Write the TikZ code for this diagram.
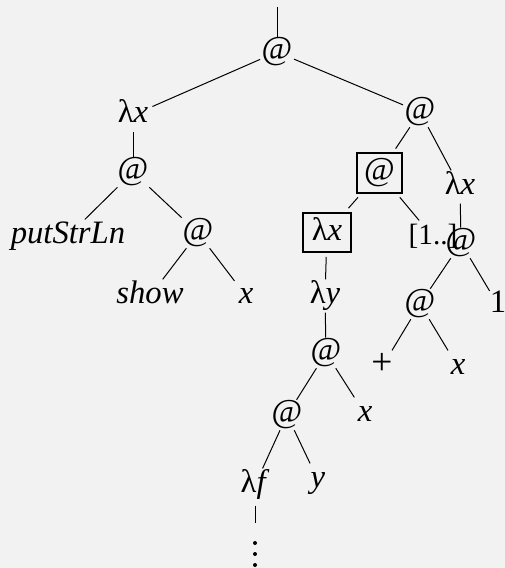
\documentclass[tikz,border=0pt]{standalone}
\usepackage{fontspec}
\setmainfont{Liberation Serif}
\definecolor{bgc}{HTML}{F2F2F2}
\newcommand{\lam}{\textup{λ}}
\begin{document}
\begin{tikzpicture}[x=0.75pt,y=-0.75pt,
  lab/.style={font=\fontsize{24.5}{26}\selectfont, text height=17pt, text depth=5.5pt, inner xsep=3pt, inner ysep=1pt},
  atn/.style={lab, font=\fontsize{25}{27}\selectfont, inner xsep=1pt, inner ysep=0pt},
  boxd/.style={draw, line width=1.5pt, minimum height=29.5pt, outer sep=3.5pt},
  edge/.style={line width=0.75pt}]
\fill[bgc] (0,0) rectangle (505,568);
\useasboundingbox (0,0) rectangle (505,568);
\coordinate (top) at (277,7);
\node[atn] (root) at (277,52) {@};
\node[lab] (Lx) at (133,115) {\lam\textit{x}};
\node[atn] (La) at (133,172) {@};
\node[lab] (put) at (68,236) {\itshape putStrLn};
\node[atn] (Ma) at (198,233) {@};
\node[lab] (show) at (150,296) {\itshape show};
\node[lab] (x1) at (246,296) {\textit{x}};
\node[atn] (R) at (420,112) {@};
\node[atn, boxd, minimum width=34pt] (Ba) at (379.5,173) {@};
\node[lab] (Rx) at (460,187) {\lam\textit{x}};
\node[lab, boxd, minimum width=36pt] (Bx) at (327,232.5) {\lam\textit{x}};
\node[lab, font=\fontsize{22}{24}\selectfont] (rng) at (433,237) {[1..]};
\node[atn] (R2) at (461,243) {@};
\node[lab] (ly) at (325,296) {\lam\textit{y}};
\node[lab, inner xsep=0pt] (one) at (498,305) {1};
\node[atn] (R3) at (420,304) {@};
\node[atn] (M2) at (326,353) {@};
\node[lab, font=\fontsize{28}{30}\selectfont] (plus) at (382,367) {+};
\node[lab] (x2) at (458,367) {\textit{x}};
\node[atn] (M3) at (287,415) {@};
\node[lab] (x3) at (365,414) {\textit{x}};
\node[lab] (lf) at (255,485) {\lam\textit{f}};
\node[lab] (y) at (318,480) {\textit{y}};
\node[inner sep=0pt, minimum width=6pt, minimum height=22.5pt] (dots) at (255,554) {};
\foreach \dy in {-11,0,11} \fill ([yshift=\dy*0.75pt]dots.center) circle (1.5pt);
\draw[edge] (top) -- (root);
\draw[edge] (root) -- (Lx);
\draw[edge] (root) -- (R);
\draw[edge] (Lx) -- (La);
\draw[edge] (La) -- (put);
\draw[edge] (La) -- (Ma);
\draw[edge] (Ma) -- (show);
\draw[edge] (Ma) -- (x1);
\draw[edge] (R) -- (Ba);
\draw[edge] (R) -- (Rx);
\draw[edge] (Ba) -- (Bx);
\draw[edge] (Ba) -- (rng);
\draw[edge] (Rx) -- (R2);
\draw[edge] (Bx) -- (ly);
\draw[edge] (R2) -- (R3);
\draw[edge] (R2) -- (one);
\draw[edge] (ly) -- (M2);
\draw[edge] (R3) -- (plus);
\draw[edge] (R3) -- (x2);
\draw[edge] (M2) -- (M3);
\draw[edge] (M2) -- (x3);
\draw[edge] (M3) -- (lf);
\draw[edge] (M3) -- (y);
\draw[edge, shorten <=3pt, shorten >=12pt] (lf) -- (dots);
\end{tikzpicture}
\end{document}
